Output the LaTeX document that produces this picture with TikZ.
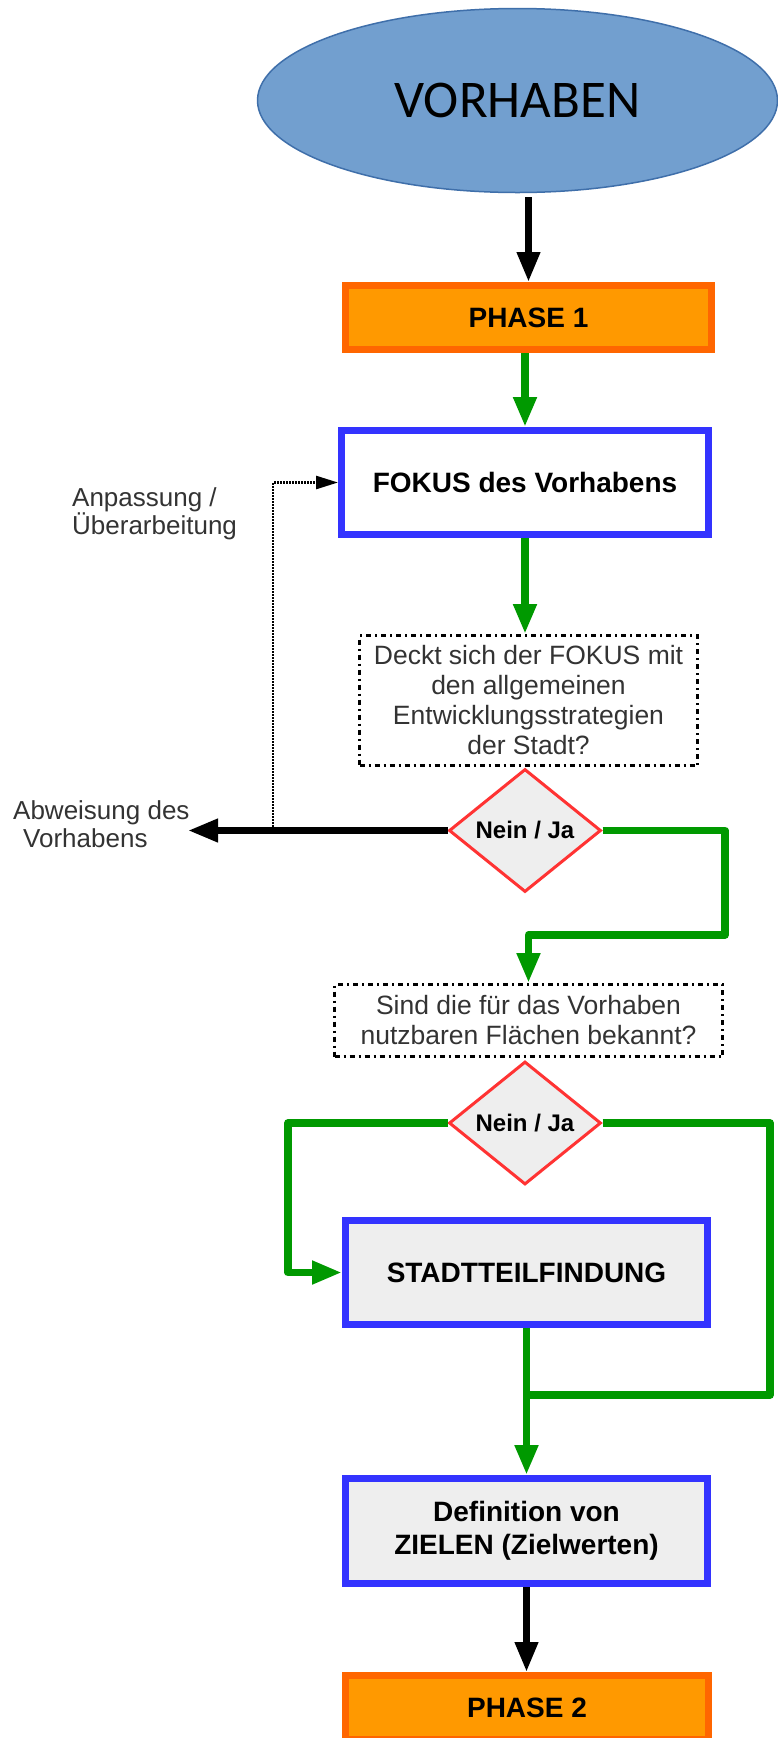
\documentclass[tikz,border=0pt]{standalone}
\usepackage{fontspec}
\setmainfont{Liberation Sans}
\newfontfamily\carlito{Carlito}
\usetikzlibrary{arrows.meta,shapes.geometric}
\definecolor{ellfill}{HTML}{729FCF}
\definecolor{elldraw}{HTML}{3F6FAA}
\definecolor{orgdraw}{HTML}{FF6600}
\definecolor{orgfill}{HTML}{FF9900}
\definecolor{bluedraw}{HTML}{3333FF}
\definecolor{greyfill}{HTML}{EEEEEE}
\definecolor{reddraw}{HTML}{FF3333}
\definecolor{greenline}{HTML}{009900}
\definecolor{txtgrey}{HTML}{333333}
\tikzset{
  boldtxt/.style={font=\fontsize{28}{33}\selectfont\bfseries, align=center, text=black},
  phasebox/.style={rectangle, draw=orgdraw, fill=orgfill, line width=7pt, inner sep=0pt, boldtxt},
  stepbox/.style={rectangle, draw=bluedraw, line width=7pt, inner sep=0pt, boldtxt},
  questbox/.style={rectangle, draw=black, line width=3pt, dash pattern=on 5pt off 4pt on 2pt off 4pt,
     inner sep=0pt, align=center, text=txtgrey, font=\fontsize{26.5}{30}\selectfont},
  decide/.style={diamond, draw=reddraw, fill=greyfill, line width=3pt, inner sep=0pt, aspect=1.23,
     minimum width=152pt, minimum height=123pt, font=\fontsize{24}{28}\selectfont\bfseries},
  sidelabel/.style={align=left, inner sep=0pt, text=txtgrey, font=\fontsize{26}{28}\selectfont},
  blackarrow/.style={draw=black, line width=7pt, -{Triangle[length=30pt,width=22pt]}},
  greenarrow/.style={draw=greenline, line width=7.5pt, line join=round, -{Triangle[length=30pt,width=22pt]}},
  greenline/.style={draw=greenline, line width=7.5pt, line join=round},
  dotarrow/.style={draw=black, line width=2.6pt, dash pattern=on 2pt off 1pt, -{Triangle[length=22pt,width=13pt]}},
}
\begin{document}
\begin{tikzpicture}[x=1pt,y=-1pt]
\useasboundingbox (0,0) rectangle (778,1738);
\clip (0,0) rectangle (778,1738);
\fill[white] (0,0) rectangle (778,1738);

\node[ellipse, draw=elldraw, fill=ellfill, line width=1.5pt, minimum width=520pt, minimum height=184pt,
      font=\carlito\fontsize{53}{60}\selectfont] (vorh) at (517.5,100.5) {VORHABEN};

\node[phasebox, minimum width=366pt, minimum height=64pt] (ph1) at (528.5,317.5) {PHASE 1};
\node[stepbox, fill=white, minimum width=367pt, minimum height=104pt] (fokus) at (525,482.5) {FOKUS des Vorhabens};
\node[questbox, minimum width=338pt, minimum height=130pt] (q1) at (528.5,700.5)
  {Deckt sich der FOKUS mit\\den allgemeinen\\Entwicklungsstrategien\\der Stadt?};
\node[decide] (d1) at (525,830.5) {Nein / Ja};
\node[questbox, minimum width=388pt, minimum height=72pt] (q2) at (528.5,1020.5)
  {Sind die für das Vorhaben\\nutzbaren Flächen bekannt?};
\node[decide] (d2) at (525,1123) {Nein / Ja};
\node[stepbox, fill=greyfill, minimum width=362pt, minimum height=104pt] (stadt) at (526.5,1272.5) {STADTTEILFINDUNG};
\node[stepbox, fill=greyfill, minimum width=362pt, minimum height=105pt] (ziel) at (526.5,1531)
  {Definition von\\ZIELEN (Zielwerten)};
\node[phasebox, minimum width=363pt, minimum height=64pt] (ph2) at (527,1707.5) {PHASE 2};

\node[sidelabel, anchor=west] (anp) at (72,514) {Anpassung /\\Überarbeitung};
\node[sidelabel, anchor=west] (abw) at (13,824) {Abweisung des\\\hspace*{10pt}Vorhabens};

\coordinate (abwend) at (188,833);
\coordinate (dotstart) at (273,829.5);
\coordinate (j1) at (725,830.5);
\coordinate (j2) at (725,935);
\coordinate (ll) at (288,1123);
\coordinate (rr) at (770,1123);
\coordinate (rj) at (770,1395);

% connectors
\draw[blackarrow, shorten <=4pt] (vorh.south -| ph1.north) -- (ph1.north);
\draw[greenarrow] (ph1.south -| fokus.north) -- (fokus.north);
\draw[greenarrow] (fokus.south) -- (fokus.south |- q1.north);
\draw[blackarrow] (d1.west) -- (d1.west -| abwend);
\draw[dotarrow] (dotstart) |- (fokus.west);
\draw[greenarrow] (d1.east) -- (j1) -- (j2) -| (q2.north);
\draw[greenarrow] (d2.west) -- (ll) |- (stadt.west);
\draw[greenline] (d2.east) -- (rr) -- (rj) -- (rj -| stadt.south);
\draw[greenarrow] (stadt.south) -- (ziel.north);
\draw[blackarrow] (ziel.south) -- (ziel.south |- ph2.north);
\end{tikzpicture}
\end{document}
